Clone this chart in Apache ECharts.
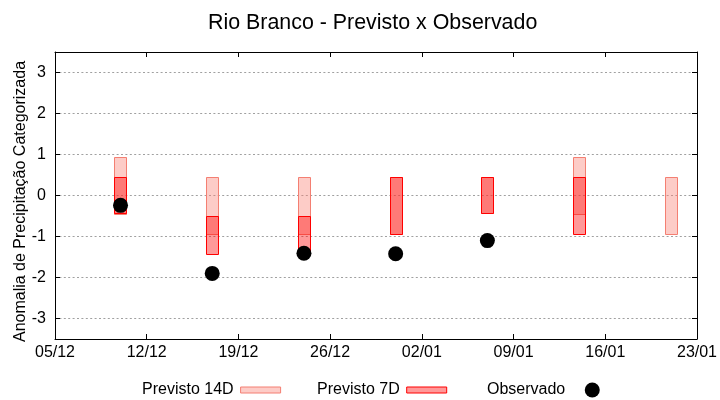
<!DOCTYPE html>
<html>
<head>
<meta charset="utf-8">
<script src="https://cdn.jsdelivr.net/npm/echarts@6/dist/echarts.min.js"></script>
<style>html,body{margin:0;padding:0;background:#fff;}#chart{width:720px;height:400px;}</style>
</head>
<body>
<div id="chart"></div>
<script>
const startDate = '2024-12-05';
const xTickLabels = ['05/12','12/12','19/12','26/12','02/01','09/01','16/01','23/01'];
const yTickLabels = ['-3','-2','-1','0','1','2','3'];
const dates = ['2024-12-10','2024-12-17','2024-12-24','2024-12-31','2025-01-07','2025-01-14','2025-01-21'];
const prev14Low  = [-0.44, -0.95, -0.95, -0.95, -0.44, -0.44, -0.95];
const prev14High = [ 0.95,  0.44,  0.44,  0.44,  0.44,  0.95,  0.44];
const prev7Low   = [-0.44, -1.44, -1.44, -0.95, -0.44, -0.95, null];
const prev7High  = [ 0.44, -0.51, -0.51,  0.44,  0.44,  0.44, null];
const observed   = [-0.24, -1.90, -1.41, -1.42, -1.10, null, null];

const DAY = 86400000;
const t0 = Date.parse(startDate + 'T00:00:00Z');
const dayOf = d => Math.round((Date.parse(d + 'T00:00:00Z') - t0) / DAY);

function rangeData(lo, hi) {
  const out = [];
  dates.forEach((d, i) => { if (lo[i] != null && hi[i] != null) out.push([dayOf(d), lo[i], hi[i]]); });
  return out;
}
const obsData = [];
dates.forEach((d, i) => { if (observed[i] != null) obsData.push([dayOf(d), observed[i]]); });

const C14 = { fill: 'rgba(250,128,114,0.4)', stroke: '#f47f72' };
const C7  = { fill: 'rgba(255,0,0,0.4)', stroke: '#ff0000' };

function makeRender(c) {
  return function (params, api) {
    const x = api.value(0), lo = api.value(1), hi = api.value(2);
    const p1 = api.coord([x, hi]);
    const p2 = api.coord([x, lo]);
    const w = api.size([0.92, 0])[0];
    return {
      type: 'rect',
      shape: { x: Math.round(p1[0] - w / 2) + 0.5, y: Math.round(p1[1]) + 0.5, width: Math.round(w), height: Math.round(p2[1] - p1[1]) },
      style: { fill: c.fill, stroke: c.stroke, lineWidth: 1 }
    };
  };
}

const FONT = 'Liberation Sans, Arial, sans-serif';
const chart = echarts.init(document.getElementById('chart'), null, { renderer: 'canvas' });
const legendBase = {
  orient: 'horizontal', align: 'right', top: 377, itemWidth: 40,
  selectedMode: false,
  textStyle: { fontFamily: FONT, fontSize: 16, color: '#000', padding: [0, 2, 0, 0] }
};
const axisLineStyle = { show: true, onZero: false, lineStyle: { color: '#000', width: 1 } };
const tickStyle = { show: true, inside: true, length: 5, lineStyle: { color: '#000' } };
chart.setOption({
  animation: false,
  backgroundColor: '#fff',
  title: {
    text: 'Rio Branco - Previsto x Observado',
    left: 203, top: 8,
    textStyle: { fontFamily: FONT, fontSize: 21.4, fontWeight: 'normal', color: '#000' }
  },
  legend: [
    Object.assign({}, legendBase, { left: 137, itemHeight: 6,
      data: [{ name: 'Previsto 14D', icon: 'rect', itemStyle: { color: C14.fill, borderColor: C14.stroke, borderWidth: 1 } }] }),
    Object.assign({}, legendBase, { left: 312, itemHeight: 6,
      data: [{ name: 'Previsto 7D', icon: 'rect', itemStyle: { color: C7.fill, borderColor: C7.stroke, borderWidth: 1 } }] }),
    Object.assign({}, legendBase, { left: 482, itemHeight: 15,
      data: [{ name: 'Observado', icon: 'circle', itemStyle: { color: '#000' } }] })
  ],
  grid: { left: 55, right: 23, top: 52, bottom: 61, containLabel: false, outerBoundsMode: 'none' },
  xAxis: [
    {
      type: 'value', min: 0, max: 49, interval: 7,
      axisLine: axisLineStyle, axisTick: tickStyle,
      axisLabel: { fontFamily: FONT, fontSize: 16, color: '#000', margin: 6,
        formatter: v => xTickLabels[Math.round(v / 7)] || '' },
      splitLine: { show: false }
    },
    {
      type: 'value', position: 'top', min: 0, max: 49, interval: 7,
      axisLine: axisLineStyle, axisTick: tickStyle,
      axisLabel: { show: false }, splitLine: { show: false }
    }
  ],
  yAxis: [
    {
      type: 'value', min: -3.5, max: 3.5,
      name: 'Anomalia de Precipitação Categorizada',
      nameLocation: 'middle', nameGap: 26, nameRotate: 90, nameMoveOverlap: false,
      nameTextStyle: { fontFamily: FONT, fontSize: 16, color: '#000', padding: [0, 12, 0, 0] },
      axisLine: axisLineStyle, axisTick: tickStyle,
      axisLabel: { fontFamily: FONT, fontSize: 16, color: '#000', margin: 9,
        formatter: v => { const k = Math.round(v + 3); return (Math.abs(v - Math.round(v)) < 1e-6 && yTickLabels[k] !== undefined) ? yTickLabels[k] : ''; } },
      splitLine: { show: true, lineStyle: { color: '#a0a0a0', width: 1, type: [2, 2.4] } }
    },
    {
      type: 'value', position: 'right', min: -3.5, max: 3.5,
      axisLine: axisLineStyle, axisTick: tickStyle,
      axisLabel: { show: false }, splitLine: { show: false }
    }
  ],
  series: [
    { name: 'Previsto 14D', type: 'custom', renderItem: makeRender(C14), data: rangeData(prev14Low, prev14High),
      encode: { x: 0, y: [1, 2] }, itemStyle: { color: C14.fill }, z: 2 },
    { name: 'Previsto 7D', type: 'custom', renderItem: makeRender(C7), data: rangeData(prev7Low, prev7High),
      encode: { x: 0, y: [1, 2] }, itemStyle: { color: C7.fill }, z: 3 },
    { name: 'Observado', type: 'scatter', data: obsData, symbol: 'circle', symbolSize: 15,
      itemStyle: { color: '#000', opacity: 1 }, z: 4 }
  ]
});
</script>
</body>
</html>
